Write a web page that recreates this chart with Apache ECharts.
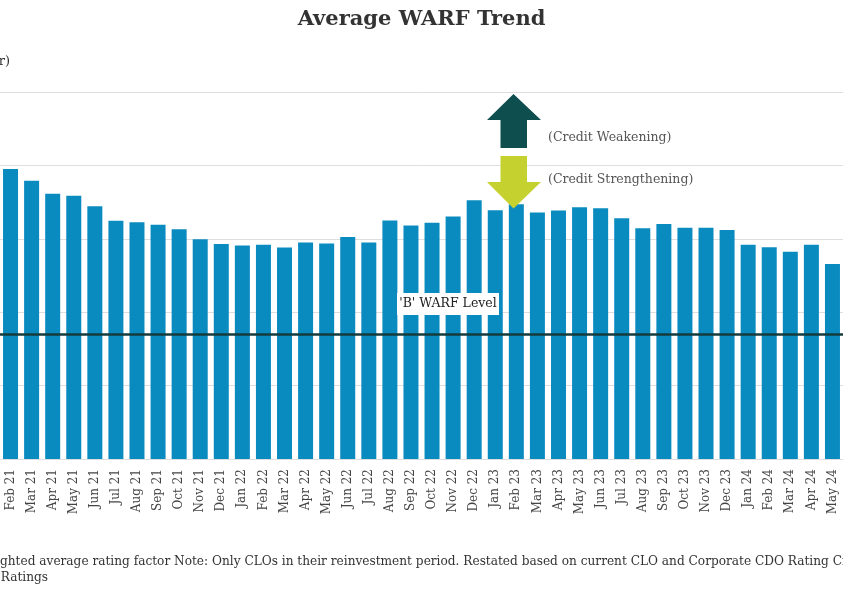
<!DOCTYPE html>
<html>
<head>
<meta charset="utf-8">
<script src="https://cdn.jsdelivr.net/npm/echarts@6/dist/echarts.min.js"></script>
<style>
html,body{margin:0;padding:0;background:#fff;}
#chart{width:843px;height:590px;}
</style>
</head>
<body>
<div id="chart"></div>
<script>
const categories = ['Feb 21','Mar 21','Apr 21','May 21','Jun 21','Jul 21','Aug 21','Sep 21','Oct 21','Nov 21','Dec 21',
  'Jan 22','Feb 22','Mar 22','Apr 22','May 22','Jun 22','Jul 22','Aug 22','Sep 22','Oct 22','Nov 22','Dec 22',
  'Jan 23','Feb 23','Mar 23','Apr 23','May 23','Jun 23','Jul 23','Aug 23','Sep 23','Oct 23','Nov 23','Dec 23',
  'Jan 24','Feb 24','Mar 24','Apr 24','May 24'];
const warf = [27.90,27.58,27.23,27.17,26.89,26.49,26.45,26.38,26.26,25.99,25.86,
  25.82,25.84,25.76,25.90,25.87,26.05,25.90,26.50,26.36,26.44,26.61,27.05,
  26.78,26.94,26.72,26.77,26.86,26.83,26.56,26.29,26.40,26.30,26.30,26.24,
  25.84,25.77,25.65,25.84,25.31];
const bWarfLevel = 23.40;
const yTicks = {min: 20, max: 30, interval: 2};
const texts = {
  title: 'Average WARF Trend',
  yName: '(Rating Factor)',
  weakening: '(Credit Weakening)',
  strengthening: '(Credit Strengthening)',
  bLabel: "'B' WARF Level",
  note: 'ghted average rating factor Note: Only CLOs in their reinvestment period. Restated based on current CLO and Corporate CDO Rating Criteria',
  source: 'Source: Fitch Ratings'
};

const serif = '"DejaVu Serif", Georgia, serif';
const chart = echarts.init(document.getElementById('chart'));
chart.setOption({
  backgroundColor: '#fff',
  animation: false,
  title: {
    text: texts.title, left: 'center', top: 4,
    textStyle: {fontFamily: serif, fontWeight: 'bold', fontSize: 21, color: '#333'}
  },
  grid: {left: 0, width: 847, top: 92, bottom: 131, containLabel: false},
  xAxis: {
    type: 'category', data: categories,
    axisLine: {show: false}, axisTick: {show: false},
    axisLabel: {rotate: 90, interval: 0, margin: 10, fontFamily: serif, fontSize: 12, color: '#444'}
  },
  yAxis: {
    type: 'value', min: yTicks.min, max: yTicks.max, interval: yTicks.interval,
    axisLabel: {show: false}, axisLine: {show: false}, axisTick: {show: false},
    splitLine: {lineStyle: {color: '#dedede', width: 1}}
  },
  series: [{
    type: 'bar', data: warf, barWidth: 15,
    itemStyle: {color: '#0a8bc0'},
    markLine: {
      silent: true, symbol: 'none', label: {show: false},
      lineStyle: {color: '#163b3c', width: 2.5, type: 'solid'},
      data: [{yAxis: bWarfLevel}]
    }
  }],
  graphic: [
    {type: 'text', z: 100, style: {x: 10, y: 62, text: texts.yName, font: '13px ' + serif, fill: '#333', textAlign: 'right', textVerticalAlign: 'middle'}},
    {type: 'polygon', z: 100, shape: {points: [[513.5,94],[541,120],[527,120],[527,148],[500.5,148],[500.5,120],[487,120]]}, style: {fill: '#0f4e4f'}},
    {type: 'polygon', z: 100, shape: {points: [[500.5,156],[527,156],[527,182],[541,182],[513.5,208.5],[487,182],[500.5,182]]}, style: {fill: '#c4d12e'}},
    {type: 'text', z: 100, style: {x: 548, y: 138, text: texts.weakening, font: '12.5px ' + serif, fill: '#555', textVerticalAlign: 'middle'}},
    {type: 'text', z: 100, style: {x: 548, y: 180, text: texts.strengthening, font: '12.5px ' + serif, fill: '#555', textVerticalAlign: 'middle'}},
    {type: 'rect', z: 100, shape: {x: 397, y: 293, width: 102, height: 22}, style: {fill: '#fff'}},
    {type: 'text', z: 101, style: {x: 448, y: 304, text: texts.bLabel, font: '12.5px ' + serif, fill: '#222', textAlign: 'center', textVerticalAlign: 'middle'}},
    {type: 'text', z: 100, style: {x: 0, y: 562, text: texts.note, font: '12.15px ' + serif, fill: '#333', textVerticalAlign: 'middle'}},
    {type: 'text', z: 100, style: {x: 48, y: 578, text: texts.source, font: '12.15px ' + serif, fill: '#333', textAlign: 'right', textVerticalAlign: 'middle'}}
  ]
});
</script>
</body>
</html>
